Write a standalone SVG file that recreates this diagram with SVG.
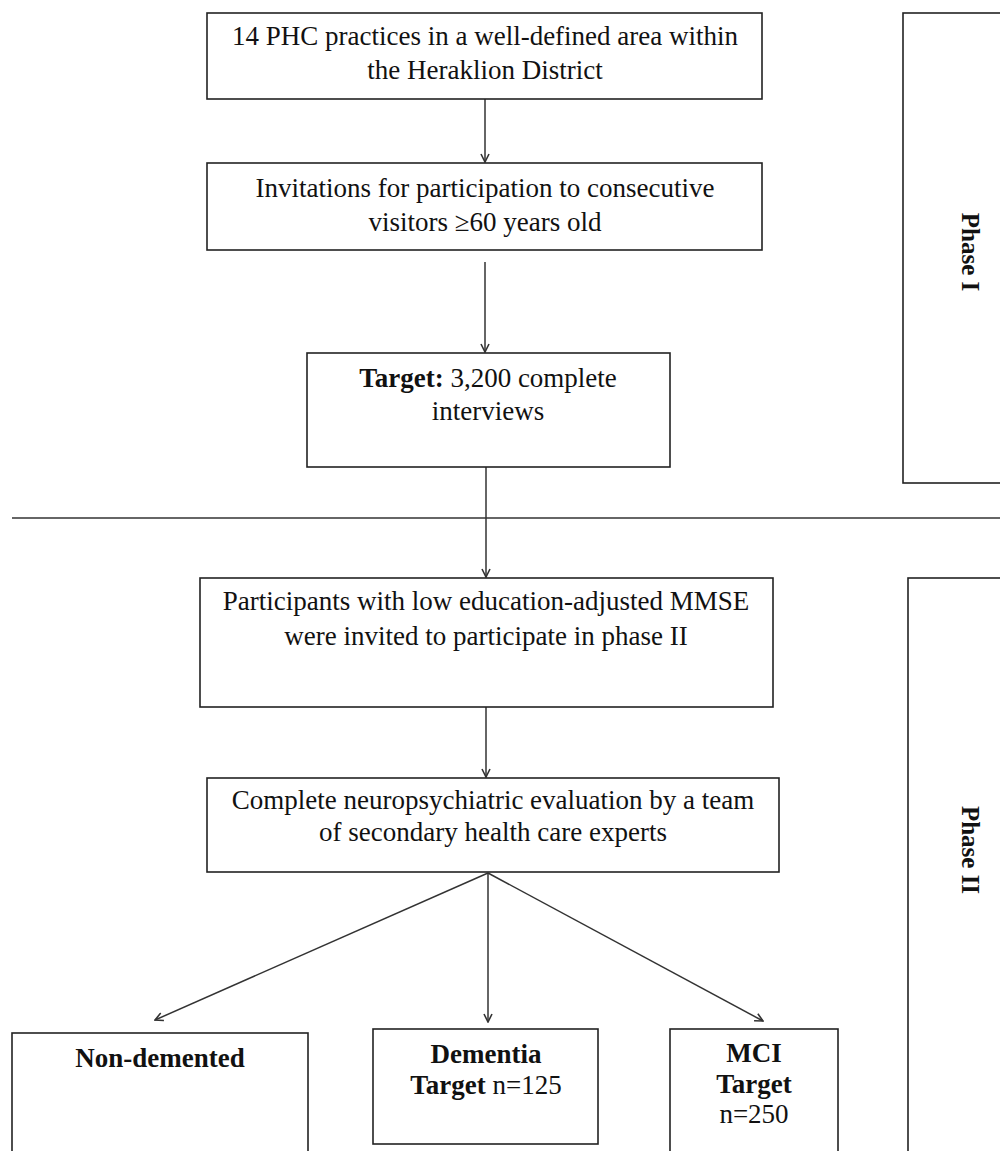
<svg xmlns="http://www.w3.org/2000/svg" width="1000" height="1151" viewBox="0 0 1000 1151">
<defs>
<style>
.box{fill:#fff;stroke:#222;stroke-width:1.6}
.t{font-family:"Liberation Serif","Times New Roman",serif;font-size:27px;fill:#111;text-anchor:middle}
.b{font-weight:bold}
.ph{font-family:"Liberation Serif","Times New Roman",serif;font-size:25px;font-weight:bold;fill:#111;text-anchor:middle;dominant-baseline:central}
.c{fill:none;stroke:#333;stroke-width:1.5}
</style>
<marker id="ah" viewBox="0 0 10 10" refX="9" refY="5" markerWidth="10" markerHeight="10" markerUnits="userSpaceOnUse" orient="auto">
<path d="M1,1 L9,5 L1,9" fill="none" stroke="#333" stroke-width="1.6"/>
</marker>
</defs>
<rect width="1000" height="1151" fill="#fff"/>
<g id="phase1">
<rect class="box" x="903" y="13" width="120" height="470"/>
<text class="ph" transform="translate(970,252) rotate(90)">Phase I</text>
</g>
<g id="phase2">
<rect class="box" x="908" y="578" width="120" height="600"/>
<text class="ph" transform="translate(970,850) rotate(90)">Phase II</text>
</g>
<g id="divider">
<line x1="12" y1="518" x2="1000" y2="518" stroke="#333" stroke-width="1.6"/>
</g>
<g id="connectors">
<line class="c" x1="485" y1="99" x2="485" y2="162" marker-end="url(#ah)"/>
<line class="c" x1="485" y1="262" x2="485" y2="352" marker-end="url(#ah)"/>
<line class="c" x1="486" y1="467" x2="486" y2="577" marker-end="url(#ah)"/>
<line class="c" x1="486" y1="707" x2="486" y2="777" marker-end="url(#ah)"/>
<line class="c" x1="488" y1="873" x2="155" y2="1020" marker-end="url(#ah)"/>
<line class="c" x1="488" y1="873" x2="488" y2="1022" marker-end="url(#ah)"/>
<line class="c" x1="488" y1="873" x2="763" y2="1021" marker-end="url(#ah)"/>
</g>
<g id="n1">
<rect class="box" x="207" y="13" width="555" height="86"/>
<text class="t" x="485" y="45">14 PHC practices in a well-defined area within</text>
<text class="t" x="485" y="79">the Heraklion District</text>
</g>
<g id="n2">
<rect class="box" x="207" y="163" width="555" height="87"/>
<text class="t" x="485" y="197">Invitations  for participation  to consecutive</text>
<text class="t" x="485" y="231">visitors  ≥60 years old</text>
</g>
<g id="n3">
<rect class="box" x="307" y="353" width="363" height="114"/>
<text class="t" x="488" y="387"><tspan class="b">Target:</tspan> 3,200 complete</text>
<text class="t" x="488" y="420">interviews</text>
</g>
<g id="n4">
<rect class="box" x="200" y="578" width="573" height="129"/>
<text class="t" x="486" y="610">Participants with low education-adjusted  MMSE</text>
<text class="t" x="486" y="645">were invited to participate in phase II</text>
</g>
<g id="n5">
<rect class="box" x="207" y="778" width="572" height="94"/>
<text class="t" x="493" y="809">Complete neuropsychiatric  evaluation  by a team</text>
<text class="t" x="493" y="841">of secondary health care experts</text>
</g>
<g id="n6">
<rect class="box" x="12" y="1033" width="296" height="130"/>
<text class="t b" x="160" y="1067">Non-demented</text>
</g>
<g id="n7">
<rect class="box" x="373" y="1029" width="225" height="115"/>
<text class="t b" x="486" y="1063">Dementia</text>
<text class="t" x="486" y="1094"><tspan class="b">Target</tspan> n=125</text>
</g>
<g id="n8">
<rect class="box" x="670" y="1029" width="168" height="130"/>
<text class="t b" x="754" y="1062">MCI</text>
<text class="t b" x="754" y="1093">Target</text>
<text class="t" x="754" y="1123">n=250</text>
</g>
</svg>
